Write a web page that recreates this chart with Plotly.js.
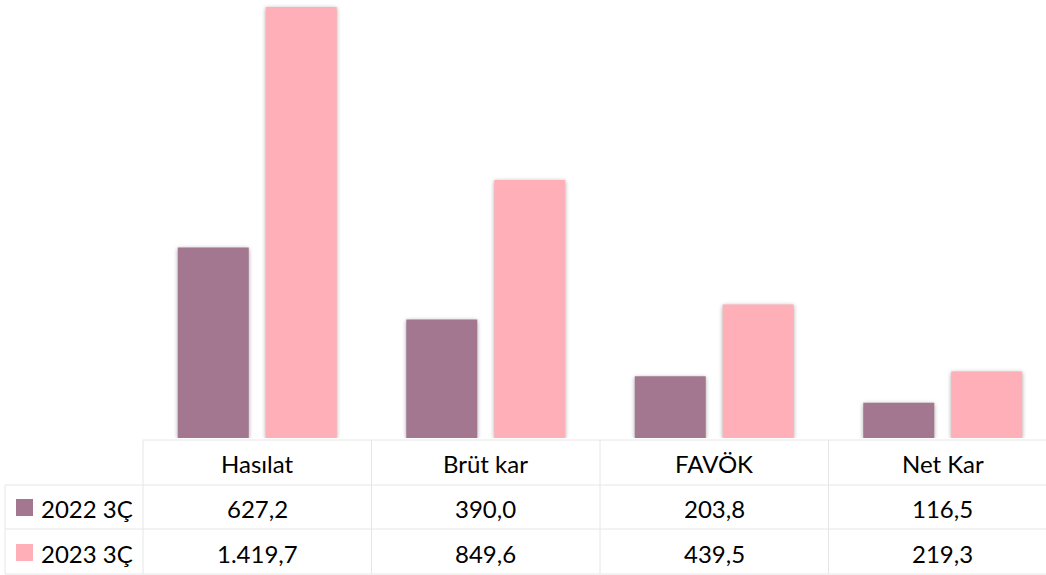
<!DOCTYPE html>
<html>
<head>
<meta charset="utf-8">
<script src="https://cdn.plot.ly/plotly-3.0.1.min.js"></script>
<style>
html,body{margin:0;padding:0;background:#fff;}
#chart{width:1046px;height:575px;}
.js-plotly-plot .barlayer .point path{filter:drop-shadow(0px 1px 2px rgba(0,0,0,0.35));}
</style>
</head>
<body>
<div id="chart"></div>
<script>
const categories = ["Hasılat", "Brüt kar", "FAVÖK", "Net Kar"];
const seriesNames = ["2022 3Ç", "2023 3Ç"];
const values2022 = [627.2, 390.0, 203.8, 116.5];
const values2023 = [1419.7, 849.6, 439.5, 219.3];
const colors = ["#A3778F", "#FFAFB8"];

const W = 1046, H = 575;
const L = 143, R = W, T = 0, B = 438; // plot area in px
const catW = 228.5;
const xRangeMax = -0.5 + (R - L) / catW;
const px2py = y => (B - y) / (B - T);
const px2px = x => (x - L) / (R - L);

function fmtTR(v) {
  const parts = v.toFixed(1).split(".");
  const intPart = parts[0].replace(/\B(?=(\d{3})+(?!\d))/g, ".");
  return intPart + "," + parts[1];
}

const traces = [values2022, values2023].map((vals, i) => ({
  type: "bar",
  name: seriesNames[i],
  x: categories,
  y: vals,
  marker: {color: colors[i], line: {width: 0}},
  hoverinfo: "none"
}));

const font = {family: "Lato, 'Open Sans', sans-serif", size: 24, color: "#000"};
const grid = "#E6E6E6";
const shapes = [];
const line = (x0, y0, x1, y1) => shapes.push({
  type: "line", xref: "paper", yref: "paper",
  x0: px2px(x0), y0: px2py(y0), x1: px2px(x1), y1: px2py(y1),
  line: {color: grid, width: 1}, layer: "below"
});
// horizontal lines
line(L, 440, W, 440);
line(5, 485, W, 485);
line(5, 529, W, 529);
line(5, 574, W, 574);
// vertical lines
line(5, 485, 5, 574);
for (let k = 0; k < categories.length; k++) {
  const xv = L + k * catW;
  line(xv, 440, xv, 574);
}

const annotations = [];
const rowY = [508, 553];
categories.forEach((c, k) => {
  annotations.push({xref: "x", yref: "paper", x: c, y: px2py(463), text: c,
    showarrow: false, font: font, xanchor: "center", yanchor: "middle"});
});
[values2022, values2023].forEach((vals, i) => {
  vals.forEach((v, k) => {
    annotations.push({xref: "x", yref: "paper", x: categories[k], y: px2py(rowY[i]),
      text: fmtTR(v), showarrow: false, font: font, xanchor: "center", yanchor: "middle"});
  });
  annotations.push({xref: "paper", yref: "paper", x: px2px(39), y: px2py(rowY[i]),
    text: seriesNames[i], showarrow: false, font: font, xanchor: "left", yanchor: "middle"});
  shapes.push({type: "rect", xref: "paper", yref: "paper",
    x0: px2px(16), x1: px2px(33), y0: px2py(rowY[i] - 9), y1: px2py(rowY[i] + 8),
    fillcolor: colors[i], line: {width: 0}});
});

const layout = {
  width: W, height: H,
  margin: {l: L, r: 0, t: T, b: H - B, pad: 0},
  paper_bgcolor: "#fff", plot_bgcolor: "#fff",
  barmode: "group", bargap: 0.23, bargroupgap: 0.193,
  showlegend: false,
  xaxis: {range: [-0.5, xRangeMax], showticklabels: false, showgrid: false, zeroline: false, showline: false, ticks: ""},
  yaxis: {range: [0, 1442.7], showticklabels: false, showgrid: false, zeroline: false, showline: false, ticks: ""},
  shapes: shapes,
  annotations: annotations,
  font: font
};

Plotly.newPlot("chart", traces, layout, {displayModeBar: false, staticPlot: true});
</script>
</body>
</html>
